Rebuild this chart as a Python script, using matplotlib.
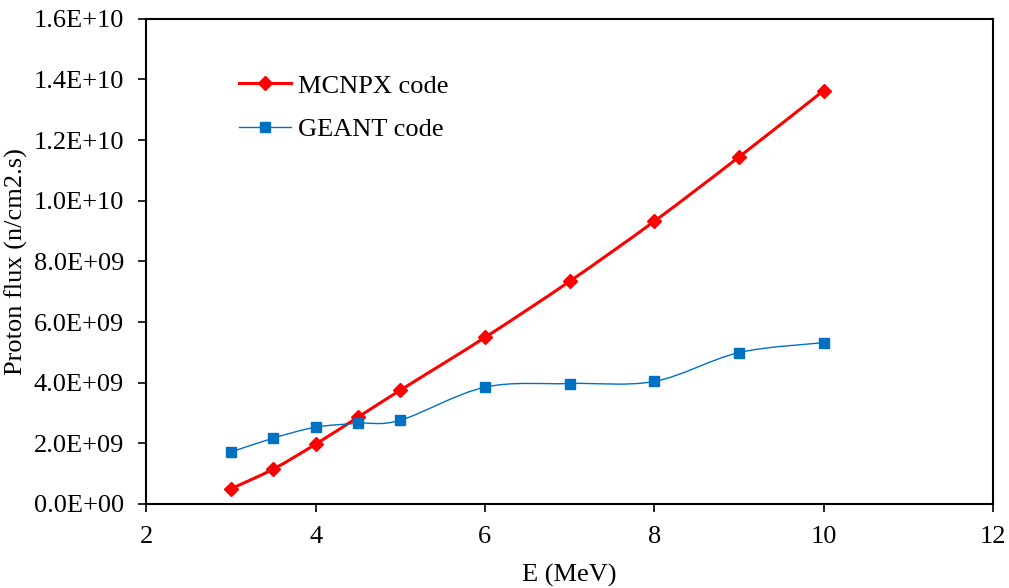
import matplotlib
matplotlib.use("Agg")
from matplotlib import pyplot as plt
from matplotlib.path import Path
from matplotlib.patches import PathPatch
from matplotlib.lines import Line2D
from matplotlib.ticker import FuncFormatter

plt.rcParams["font.family"] = ["Liberation Serif", "DejaVu Serif"]

energy = [3, 3.5, 4, 4.5, 5, 6, 7, 8, 9, 10]
mcnpx_flux = [0.50e9, 1.15e9, 1.97e9, 2.86e9, 3.75e9, 5.49e9, 7.34e9, 9.32e9, 11.44e9, 13.63e9]
geant_flux = [1.71e9, 2.17e9, 2.53e9, 2.66e9, 2.76e9, 3.85e9, 3.97e9, 4.04e9, 4.99e9, 5.32e9]

red = "#FF0000"
blue = "#0070C0"


def smooth_path(xs, ys):
    # bezier segments like excel's smoothed line
    pts = list(zip(xs, ys))
    n = len(pts)
    verts = [pts[0]]
    codes = [Path.MOVETO]
    for i in range(n - 1):
        p0 = pts[i - 1] if i > 0 else pts[i]
        p1 = pts[i]
        p2 = pts[i + 1]
        p3 = pts[i + 2] if i + 2 < n else pts[i + 1]
        c1 = (p1[0] + (p2[0] - p0[0]) / 6, p1[1] + (p2[1] - p0[1]) / 6)
        c2 = (p2[0] - (p3[0] - p1[0]) / 6, p2[1] - (p3[1] - p1[1]) / 6)
        verts += [c1, c2, p2]
        codes += [Path.CURVE4] * 3
    return Path(verts, codes)


fig = plt.figure(figsize=(10.09, 5.88), dpi=100)
ax = fig.add_axes([0.145, 0.143, 0.839, 0.825])

ax.add_patch(PathPatch(smooth_path(energy, mcnpx_flux), fill=False, edgecolor=red, lw=2.2, zorder=2))
ax.add_patch(PathPatch(smooth_path(energy, geant_flux), fill=False, edgecolor=blue, lw=1.0, zorder=2))
ax.plot(energy, mcnpx_flux, linestyle="none", marker="D", ms=7, color=red, zorder=3)
ax.plot(energy, geant_flux, linestyle="none", marker="s", ms=7, color=blue, zorder=3)

ax.set_xlim(2, 12)
ax.set_ylim(0, 1.6e10)
ax.set_xticks([2, 4, 6, 8, 10, 12])
ax.set_yticks([i * 2e9 for i in range(9)])
ax.yaxis.set_major_formatter(FuncFormatter(lambda v, p: f"{v:.1E}"))
ax.tick_params(direction="out", length=6, width=1.2, labelsize=19, color="black", pad=10)
for s in ax.spines.values():
    s.set_linewidth(1.5)

ax.set_xlabel("E (MeV)", fontsize=19, labelpad=11)
ax.set_ylabel("Proton flux (n/cm2.s)", fontsize=19, labelpad=4)

handles = [
    Line2D([], [], color=red, lw=2.2, marker="D", ms=7),
    Line2D([], [], color=blue, lw=1.0, marker="s", ms=7),
]
ax.legend(handles, ["MCNPX code", "GEANT code"], loc="upper left",
          bbox_to_anchor=(0.081, 0.935), frameon=False, fontsize=19,
          handlelength=2.0, handletextpad=0.25, labelspacing=0.75)

fig.savefig("out.png", dpi=100)
